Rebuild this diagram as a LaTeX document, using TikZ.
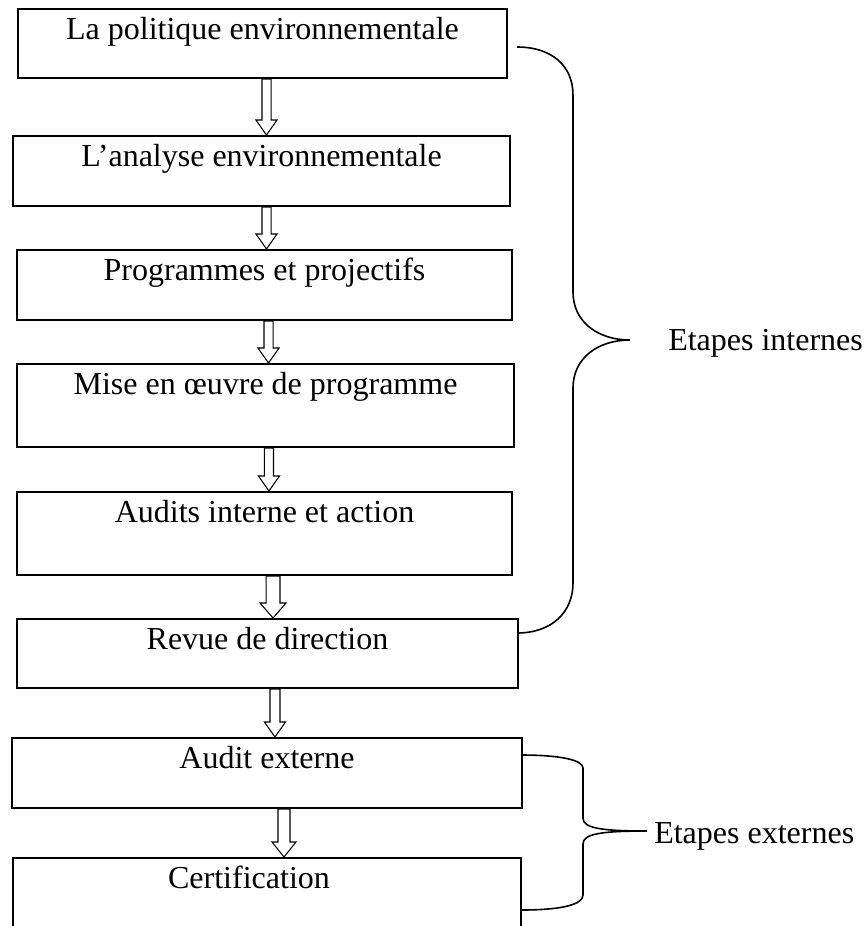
\documentclass[tikz,border=0pt]{standalone}
\usepackage{fontspec}
\setmainfont{Liberation Serif}
\usetikzlibrary{calc,fit}
\begin{document}
\begin{tikzpicture}[x=0.75pt,y=-0.75pt,
  stage/.style={draw, line width=1.5pt, rectangle, inner sep=0pt},
  caption/.style={anchor=base, inner sep=0pt, font=\fontsize{24}{28}\selectfont},
  brace/.style={draw, line width=1.2pt},
  harrow/.style 2 args={draw, line width=0.8pt, to path={
     let \p1=(\tikztostart), \p2=(\tikztotarget) in
     (\x1-#1,\y1) -- (\x1-#1,\y2+11.25pt) -- (\x1-#2,\y2+11.25pt) -- (\x1,\y2)
     -- (\x1+#2,\y2+11.25pt) -- (\x1+#1,\y2+11.25pt) -- (\x1+#1,\y1) -- cycle}},
]
\useasboundingbox (0,0) rectangle (865,926);
\clip (0,0) rectangle (865,926);

% stage boxes
\node[stage, fit={(18,9) (507,78)}]    (b1) {};
\node[stage, fit={(13,136) (510,206)}] (b2) {};
\node[stage, fit={(17,250) (512,320)}] (b3) {};
\node[stage, fit={(17,364) (514,447)}] (b4) {};
\node[stage, fit={(17,492) (512,575)}] (b5) {};
\node[stage, fit={(17,619) (518,688)}] (b6) {};
\node[stage, fit={(12,738) (522,808)}] (b7) {};
\node[stage, fit={(13,858) (521,990)}] (b8) {};

% box titles
\node[caption] (t1) at ($(b1.north)+(0,31)$) {La politique environnementale};
\node[caption] (t2) at ($(b2.north)+(0,31)$) {L’analyse environnementale};
\node[caption] (t3) at ($(b3.north)+(0,31)$) {Programmes et projectifs};
\node[caption] (t4) at ($(b4.north)+(0,31)$) {Mise en œuvre de programme};
\node[caption] (t5) at ($(b5.north)+(0,31)$) {Audits interne et action};
\node[caption] (t6) at ($(b6.north)+(0,31)$) {Revue de direction};
\node[caption] (t7) at ($(b7.north)+(0,31)$) {Audit externe};
\node[caption] (t8) at ($(b8.north)+(-18,31)$) {Certification};

% hollow arrows between stages
\draw[harrow={3.4pt}{7.9pt}] ([xshift=3pt]b1.south) to (b2.north);
\draw[harrow={3.4pt}{7.9pt}] ([xshift=3.75pt]b2.south) to (b3.north);
\draw[harrow={3.4pt}{7.9pt}] ([xshift=3pt]b3.south) to (b4.north);
\draw[harrow={3.4pt}{7.9pt}] ([xshift=2.6pt]b4.south) to (b5.north);
\draw[harrow={5.2pt}{9.75pt}] ([xshift=6.4pt]b5.south) to (b6.north);
\draw[harrow={3.75pt}{7.9pt}] ([xshift=5.6pt]b6.south) to (b7.north);
\draw[harrow={4.5pt}{9pt}] ([xshift=12.75pt]b7.south) to (b8.north);

% brace for the internal stages
\coordinate (i1) at (517,47);
\coordinate (i2) at (517,633);
\node[caption, anchor=base west] (li) at (668,350) {Etapes internes};
\draw[brace] (i1) .. controls (552,47) and (573,66) .. (573,95) -- (573,292)
  .. controls (573,322) and (598,340) .. (630,340)
  .. controls (598,340) and (573,358) .. (573,388) -- (573,583)
  .. controls (573,612) and (552,633) .. (i2);

% brace for the external stages
\coordinate (e1) at (521,755);
\coordinate (e2) at (521,910);
\node[caption, anchor=base west] (le) at (654,843) {Etapes externes};
\draw[brace] (e1) .. controls (560,755) and (583,760) .. (583,768) -- (583,818)
  .. controls (583,828) and (600,831) .. (647,831)
  .. controls (600,831) and (583,834) .. (583,844) -- (583,895)
  .. controls (583,905) and (560,910) .. (e2);
\end{tikzpicture}
\end{document}
